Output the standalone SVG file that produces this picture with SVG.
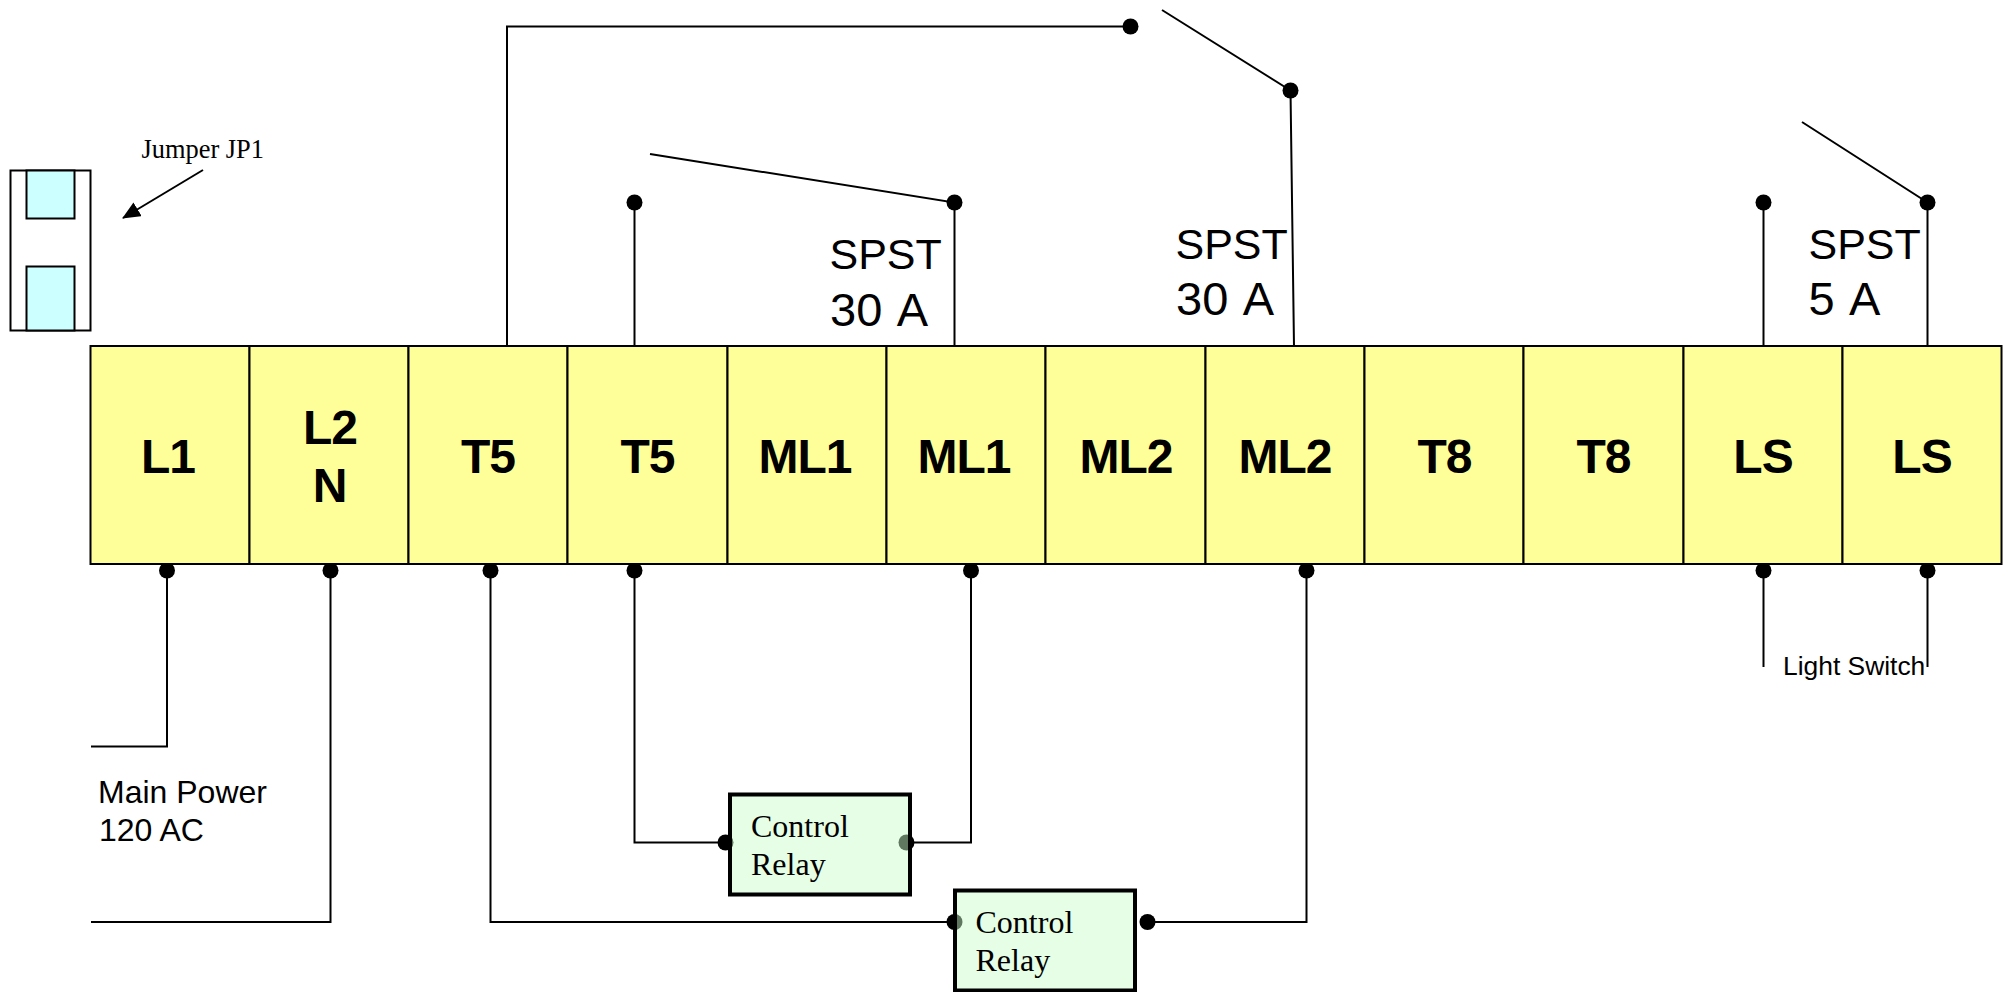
<svg xmlns="http://www.w3.org/2000/svg" width="2009" height="992" viewBox="0 0 2009 992">
<style>
.w{fill:none;stroke:#000;stroke-width:2}
.c{fill:#ffff99;stroke:#000;stroke-width:2}
.j{fill:#ccffff;stroke:#000;stroke-width:2}
.o{fill:none;stroke:#000;stroke-width:2}
.r{fill:rgb(200,252,200);fill-opacity:.475;stroke:none}
.rs{fill:none;stroke:#000;stroke-width:4}
.l{font-family:"Liberation Sans",Arial,sans-serif;font-weight:700;font-size:48px;letter-spacing:-1px;text-anchor:middle;fill:#000}
.s{font-family:"Liberation Sans",Arial,sans-serif;font-size:43px;fill:#000}
.a{font-family:"Liberation Sans",Arial,sans-serif;font-size:47px;word-spacing:4px;fill:#000}
.m{font-family:"Liberation Sans",Arial,sans-serif;font-size:32px;fill:#000}
.sm{font-family:"Liberation Sans",Arial,sans-serif;font-size:26.400px;fill:#000}
.t{font-family:"Liberation Serif","Times New Roman",serif;font-size:32px;fill:#000}
.ts{font-family:"Liberation Serif","Times New Roman",serif;font-size:26.400px;fill:#000}
.d{fill:#000}
</style>
<defs><marker id="ah" markerUnits="userSpaceOnUse" markerWidth="18" markerHeight="16" refX="17" refY="8" orient="auto"><path d="M0,0L18,8L0,16z" fill="#000"/></marker></defs>
<g id="jumper">
<rect class="o" x="10.500" y="170.500" width="80" height="160"/>
<rect class="j" x="26.500" y="170.500" width="48" height="48"/>
<rect class="j" x="26.500" y="266.500" width="48" height="64"/>
</g>
<g id="jumper-label"><text class="ts" x="141.500" y="158">Jumper JP1</text></g>
<g id="connectors">
<path class="w" d="M203,170L123,218" marker-end="url(#ah)"/>
<path class="w" d="M507,346V26.500H1130"/>
<path class="w" d="M1162,10L1290.500,90.500L1294,346"/>
<path class="w" d="M650,154L954.500,202.500V346"/>
<path class="w" d="M634.500,202.500V346"/>
<path class="w" d="M1763.500,202.500V346"/>
<path class="w" d="M1802,122L1927.500,202.500V346"/>
<path class="w" d="M167,570.500V746.500H91"/>
<path class="w" d="M330.500,570.500V922H91"/>
<path class="w" d="M490.500,570.500V922H954"/>
<path class="w" d="M634.500,570.500V842.500H725"/>
<path class="w" d="M906,842.500H971V570.500"/>
<path class="w" d="M1147,922H1306.500V570.500"/>
<path class="w" d="M1763.500,570.500V667"/>
<path class="w" d="M1927.500,570.500V667"/>
</g>
<g id="dots">
<circle class="d" cx="1130.500" cy="26.500" r="8"/>
<circle class="d" cx="1290.500" cy="90.500" r="8"/>
<circle class="d" cx="634.500" cy="202.500" r="8"/>
<circle class="d" cx="954.500" cy="202.500" r="8"/>
<circle class="d" cx="1763.500" cy="202.500" r="8"/>
<circle class="d" cx="1927.500" cy="202.500" r="8"/>
<circle class="d" cx="167" cy="570.500" r="8"/>
<circle class="d" cx="330.500" cy="570.500" r="8"/>
<circle class="d" cx="490.500" cy="570.500" r="8"/>
<circle class="d" cx="634.500" cy="570.500" r="8"/>
<circle class="d" cx="971" cy="570.500" r="8"/>
<circle class="d" cx="1306.500" cy="570.500" r="8"/>
<circle class="d" cx="1763.500" cy="570.500" r="8"/>
<circle class="d" cx="1927.500" cy="570.500" r="8"/>
<circle class="d" cx="725.500" cy="842.500" r="8"/>
<circle class="d" cx="906.500" cy="842.500" r="8"/>
<circle class="d" cx="954.500" cy="922" r="8"/>
<circle class="d" cx="1147.500" cy="922" r="8"/>
</g>
<g id="cell-L1"><rect class="c" x="90.500" y="346" width="159" height="218"/><text class="l" x="168" y="473">L1</text></g>
<g id="cell-L2"><rect class="c" x="249.500" y="346" width="159" height="218"/><text class="l" x="330" y="444">L2</text><text class="l" x="329.500" y="502">N</text></g>
<g id="cell-T5a"><rect class="c" x="408.500" y="346" width="159" height="218"/><text class="l" x="488" y="473">T5</text></g>
<g id="cell-T5b"><rect class="c" x="567.500" y="346" width="160" height="218"/><text class="l" x="647.500" y="473">T5</text></g>
<g id="cell-ML1a"><rect class="c" x="727.500" y="346" width="159" height="218"/><text class="l" x="805" y="473">ML1</text></g>
<g id="cell-ML1b"><rect class="c" x="886.500" y="346" width="159" height="218"/><text class="l" x="964" y="473">ML1</text></g>
<g id="cell-ML2a"><rect class="c" x="1045.500" y="346" width="160" height="218"/><text class="l" x="1126" y="473">ML2</text></g>
<g id="cell-ML2b"><rect class="c" x="1205.500" y="346" width="159" height="218"/><text class="l" x="1285" y="473">ML2</text></g>
<g id="cell-T8a"><rect class="c" x="1364.500" y="346" width="159" height="218"/><text class="l" x="1444.500" y="473">T8</text></g>
<g id="cell-T8b"><rect class="c" x="1523.500" y="346" width="160" height="218"/><text class="l" x="1603.500" y="473">T8</text></g>
<g id="cell-LSa"><rect class="c" x="1683.500" y="346" width="159" height="218"/><text class="l" x="1763" y="473">LS</text></g>
<g id="cell-LSb"><rect class="c" x="1842.500" y="346" width="159" height="218"/><text class="l" x="1922" y="473">LS</text></g>
<g id="spst-1"><text class="s" x="829.500" y="268.500">SPST</text><text class="a" x="830" y="326">30 A</text></g>
<g id="spst-2"><text class="s" x="1175.500" y="258.500">SPST</text><text class="a" x="1176" y="315">30 A</text></g>
<g id="spst-3"><text class="s" x="1808.500" y="258.500">SPST</text><text class="a" x="1808.500" y="315">5 A</text></g>
<g id="light-switch"><text class="sm" x="1783" y="674.500">Light Switch</text></g>
<g id="main-power"><text class="m" x="98" y="803">Main Power</text><text class="m" x="99" y="841">120 AC</text></g>
<g id="relay-1"><rect class="r" x="730" y="794.500" width="180" height="100"/><rect class="rs" x="730" y="794.500" width="180" height="100"/><text class="t" x="751" y="837">Control</text><text class="t" x="751" y="875">Relay</text></g>
<g id="relay-2"><rect class="r" x="955" y="890.500" width="180" height="100"/><rect class="rs" x="955" y="890.500" width="180" height="100"/><text class="t" x="975.500" y="933">Control</text><text class="t" x="975.500" y="971">Relay</text></g>
</svg>
